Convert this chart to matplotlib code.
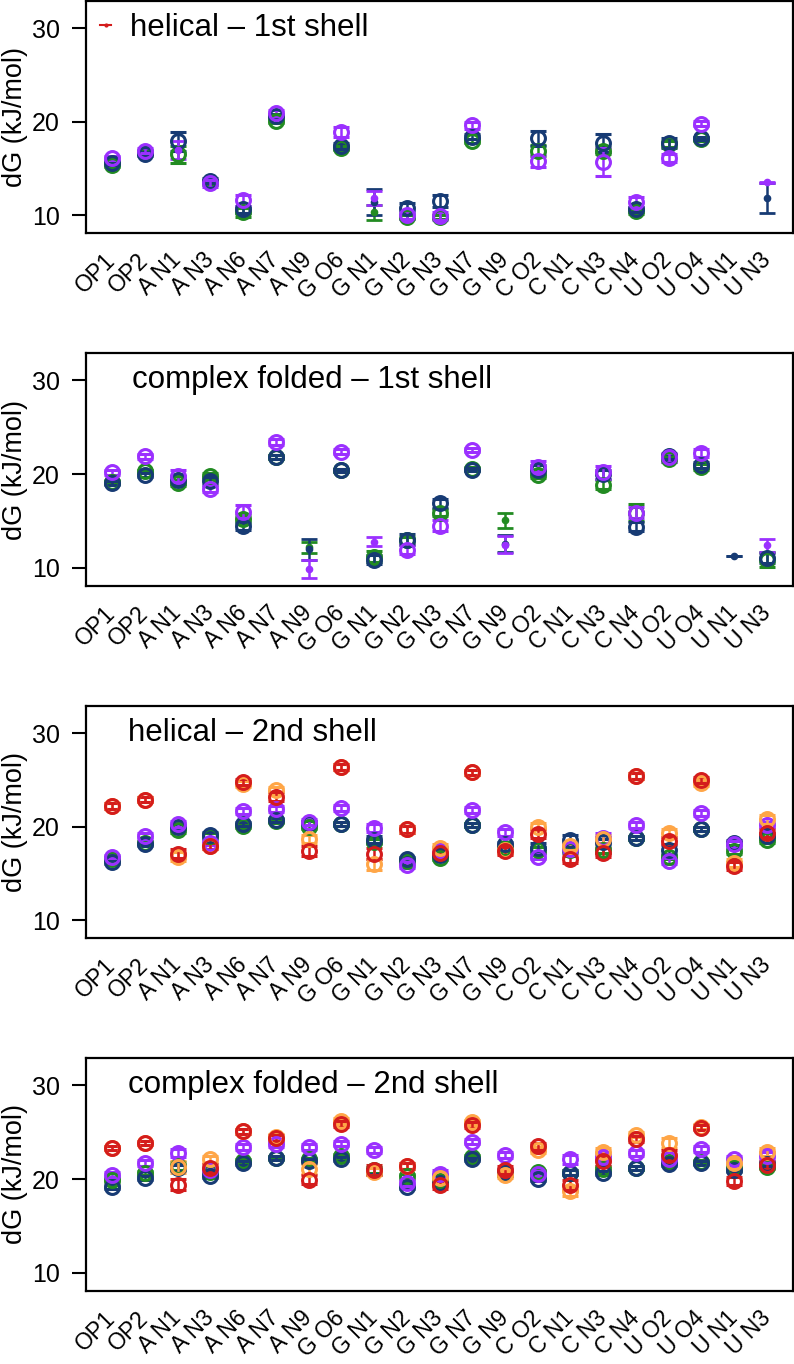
import numpy as np
import matplotlib
matplotlib.use("Agg")
import matplotlib.pyplot as plt
from matplotlib.lines import Line2D

plt.rcParams['font.family'] = ['Liberation Sans', 'DejaVu Sans']

nan = np.nan

categories = ["OP1", "OP2", "A N1", "A N3", "A N6", "A N7", "A N9", "G O6", "G N1",
              "G N2", "G N3", "G N7", "G N9", "C O2", "C N1", "C N3", "C N4", "U O2",
              "U O4", "U N1", "U N3"]

titles = ["helical \u2013 1st shell", "complex folded \u2013 1st shell",
          "helical \u2013 2nd shell", "complex folded \u2013 2nd shell"]

colors = {"navy": "#173b74", "green": "#228b22", "purple": "#9b30ff",
          "orange": "#ffa647", "red": "#d41c1c"}

# ---- helical, 1st shell ----
h1_navy = [15.6, 16.5, 17.9, 13.7, 10.6, 20.6, nan, 17.4, 11.4, 10.8, 11.5, 18.4, nan, 18.2, nan, 17.7, 10.6, 17.7, 18.2, nan, 11.8]
h1_navy_err = [0.2, 0.2, 1.0, 0.3, 0.4, 0.2, nan, 0.3, 1.35, 0.5, 0.6, 0.3, nan, 0.8, nan, 0.95, 0.3, 0.5, 0.2, nan, 1.6]
h1_green = [15.4, 16.7, 16.5, 13.5, 10.3, 20.1, nan, 17.2, 10.3, 9.8, 9.8, 17.9, nan, 16.9, nan, 16.9, 10.4, 17.6, 18.1, nan, nan]
h1_green_err = [0.2, 0.2, 0.9, 0.3, 0.5, 0.2, nan, 0.2, 0.8, 0.2, 0.2, 0.2, nan, 0.55, nan, 0.4, 0.3, 0.3, 0.2, nan, nan]
h1_purple = [16.1, 16.9, 16.95, 13.4, 11.6, 20.9, nan, 18.9, 11.8, 10.0, 9.9, 19.6, nan, 15.8, nan, 15.7, 11.4, 16.1, 19.8, nan, 13.5]
h1_purple_err = [0.2, 0.3, 0.95, 0.4, 0.6, 0.3, nan, 0.5, 0.75, 0.4, 0.4, 0.4, nan, 0.6, nan, 1.5, 0.5, 0.4, 0.3, nan, 0.05]
h1_dots = {"navy": ["G N1", "U N3"], "green": ["G N1"], "purple": ["A N1", "G N1", "U N3"]}

# ---- complex folded, 1st shell ----
c1_navy = [19.1, 19.9, 19.4, 19.3, 14.5, 21.8, 12.0, 20.4, 10.9, 13.0, 16.9, 20.5, 12.6, 20.5, nan, 20.0, 14.4, 21.9, 21.0, 11.25, 11.05]
c1_navy_err = [0.2, 0.2, 0.4, 0.4, 0.4, 0.2, 1.1, 0.2, 0.5, 0.6, 0.5, 0.2, 0.9, 0.5, nan, 0.5, 0.5, 0.3, 0.3, 0.0, 0.5]
c1_green = [19.2, 20.3, 19.05, 19.8, 15.2, 21.8, 12.2, 20.4, 11.2, 12.95, 15.9, 20.6, 15.1, 19.95, nan, 18.9, 15.9, 21.6, 20.8, nan, 10.9]
c1_green_err = [0.2, 0.2, 0.3, 0.3, 0.4, 0.2, 0.6, 0.2, 0.6, 0.4, 0.4, 0.2, 0.8, 0.4, nan, 0.5, 0.9, 0.3, 0.3, nan, 0.8]
c1_purple = [20.2, 21.9, 19.8, 18.4, 16.0, 23.4, 9.9, 22.4, 12.8, 11.95, 14.5, 22.6, 12.5, 20.8, nan, 20.2, 15.9, 21.8, 22.25, nan, 12.4]
c1_purple_err = [0.3, 0.3, 0.6, 0.3, 0.7, 0.3, 1.0, 0.3, 0.5, 0.5, 0.6, 0.2, 0.9, 0.6, nan, 0.7, 0.6, 0.5, 0.4, nan, 0.7]
c1_dots = {"navy": ["A N9", "G N9", "U N1"], "green": ["A N9", "G N9"],
           "purple": ["A N9", "G N1", "G N9", "U N3"]}

# ---- helical, 2nd shell ----
h2_navy = [16.2, 18.1, 20.0, 19.1, 20.3, 20.7, 20.4, 20.3, 18.6, 16.5, 17.0, 20.2, 18.1, 17.7, 18.6, 18.4, 18.8, 17.5, 19.75, 18.3, 19.0]
h2_navy_err = [0.2, 0.2, 0.2, 0.3, 0.2, 0.2, 0.2, 0.2, 0.4, 0.3, 0.3, 0.2, 0.3, 0.5, 0.5, 0.3, 0.2, 0.5, 0.2, 0.3, 0.3]
h2_green = [16.5, 18.3, 19.6, 19.0, 20.1, 20.6, 20.0, 20.3, 18.4, 16.3, 16.6, 20.2, 17.7, 17.5, 17.5, 17.5, 18.8, 16.8, 19.75, 17.4, 18.6]
h2_green_err = [0.2, 0.2, 0.3, 0.3, 0.2, 0.2, 0.2, 0.2, 0.3, 0.2, 0.2, 0.2, 0.3, 0.3, 0.3, 0.3, 0.2, 0.3, 0.2, 0.3, 0.3]
h2_purple = [16.8, 19.0, 20.3, 18.3, 21.7, 21.9, 20.5, 22.0, 19.85, 15.9, 17.4, 21.8, 19.4, 16.8, 17.6, 18.8, 20.2, 16.3, 21.45, 18.1, 20.2]
h2_purple_err = [0.2, 0.3, 0.3, 0.3, 0.3, 0.3, 0.3, 0.3, 0.4, 0.3, 0.4, 0.3, 0.4, 0.3, 0.4, 0.5, 0.3, 0.3, 0.3, 0.4, 0.3]
h2_orange = [22.2, 22.9, 16.8, 17.9, 24.6, 23.9, 18.7, 26.4, 15.95, 19.7, 17.7, 25.8, 17.5, 20.0, 17.9, 18.7, 25.4, 19.3, 24.7, 16.1, 20.8]
h2_orange_err = [0.3, 0.3, 0.5, 0.3, 0.3, 0.4, 0.4, 0.3, 0.6, 0.4, 0.4, 0.3, 0.4, 0.4, 0.4, 0.4, 0.3, 0.4, 0.3, 0.4, 0.5]
h2_red = [22.2, 22.9, 17.1, 17.9, 24.8, 23.2, 17.4, 26.4, 17.1, 19.7, 17.2, 25.8, 17.4, 19.25, 16.5, 17.2, 25.4, 18.5, 25.0, 15.8, 19.3]
h2_red_err = [0.3, 0.3, 0.5, 0.3, 0.3, 0.5, 0.5, 0.3, 0.6, 0.4, 0.4, 0.3, 0.4, 0.5, 0.4, 0.5, 0.3, 0.4, 0.3, 0.4, 0.4]

# ---- complex folded, 2nd shell ----
c2_navy = [19.2, 20.1, 21.2, 20.3, 21.7, 22.25, 21.9, 22.15, 20.9, 19.2, 19.6, 22.1, 20.8, 20.0, 20.7, 20.65, 21.2, 21.65, 21.7, 21.0, 21.6]
c2_navy_err = [0.2, 0.2, 0.3, 0.2, 0.2, 0.2, 0.2, 0.2, 0.3, 0.2, 0.3, 0.2, 0.3, 0.2, 0.3, 0.2, 0.2, 0.2, 0.2, 0.2, 0.2]
c2_green = [19.95, 20.7, 21.4, 20.8, 21.9, 22.3, 22.1, 22.5, 21.0, 20.3, 19.8, 22.4, 20.6, 20.8, 20.7, 21.1, 21.2, 21.8, 21.8, 21.2, 21.35]
c2_green_err = [0.2, 0.2, 0.4, 0.3, 0.2, 0.2, 0.2, 0.2, 0.3, 0.3, 0.3, 0.2, 0.3, 0.2, 0.3, 0.3, 0.2, 0.2, 0.2, 0.3, 0.2]
c2_purple = [20.5, 21.7, 22.8, 21.0, 23.4, 23.7, 23.4, 23.8, 23.1, 19.6, 20.6, 24.0, 22.6, 20.6, 22.1, 22.4, 22.8, 22.2, 23.2, 22.1, 22.5]
c2_purple_err = [0.3, 0.3, 0.4, 0.3, 0.3, 0.3, 0.3, 0.3, 0.3, 0.3, 0.4, 0.3, 0.3, 0.3, 0.5, 0.4, 0.3, 0.3, 0.3, 0.4, 0.4]
c2_orange = [23.3, 23.85, 21.3, 22.1, 25.1, 24.55, 21.1, 26.2, 20.8, 21.4, 20.1, 26.05, 20.5, 23.1, 18.7, 22.9, 24.75, 23.85, 25.6, 21.7, 22.9]
c2_orange_err = [0.2, 0.2, 0.6, 0.4, 0.3, 0.3, 0.5, 0.3, 0.4, 0.3, 0.4, 0.3, 0.4, 0.3, 0.5, 0.4, 0.3, 0.5, 0.3, 0.5, 0.4]
c2_red = [23.3, 23.85, 19.4, 21.2, 25.1, 24.4, 19.95, 25.9, 21.0, 21.4, 19.4, 25.8, 21.0, 23.5, 19.4, 21.9, 24.3, 22.6, 25.5, 19.8, 21.5]
c2_red_err = [0.2, 0.2, 0.6, 0.4, 0.3, 0.3, 0.5, 0.3, 0.5, 0.3, 0.4, 0.3, 0.4, 0.4, 0.5, 0.5, 0.3, 0.5, 0.3, 0.4, 0.4]

panels = [
    [("green", h1_green, h1_green_err), ("navy", h1_navy, h1_navy_err), ("purple", h1_purple, h1_purple_err)],
    [("green", c1_green, c1_green_err), ("navy", c1_navy, c1_navy_err), ("purple", c1_purple, c1_purple_err)],
    [("green", h2_green, h2_green_err), ("navy", h2_navy, h2_navy_err), ("purple", h2_purple, h2_purple_err),
     ("orange", h2_orange, h2_orange_err), ("red", h2_red, h2_red_err)],
    [("green", c2_green, c2_green_err), ("navy", c2_navy, c2_navy_err), ("purple", c2_purple, c2_purple_err),
     ("orange", c2_orange, c2_orange_err), ("red", c2_red, c2_red_err)],
]
panel_dots = [h1_dots, c1_dots, {}, {}]

fig = plt.figure(figsize=(7.94, 13.64), dpi=100)
W, H = 794, 1364
boxes = [(1, 233), (353, 586), (706, 938), (1058, 1291)]
x = np.arange(1, len(categories) + 1)

for k, (top, bot) in enumerate(boxes):
    ax = fig.add_axes([86 / W, 1 - bot / H, 707 / W, (bot - top) / H])
    for name, vals, errs in panels[k]:
        vals = np.array(vals, dtype=float)
        errs = np.array(errs, dtype=float)
        dot = np.isin(categories, panel_dots[k].get(name, []))
        c = colors[name]
        ax.errorbar(x[~dot], vals[~dot], yerr=errs[~dot], fmt='o', ms=10, mfc='none',
                    mec=c, mew=2.2, color=c, elinewidth=1.8, capsize=5.5, capthick=2)
        if dot.any():
            ax.errorbar(x[dot], vals[dot], yerr=errs[dot], fmt='o', ms=4.5, mfc=c,
                        mec=c, color=c, elinewidth=1.8, capsize=5.5, capthick=2)
    ax.set_xlim(0.2, 21.8)
    ax.set_ylim(8.08, 32.92)
    ax.set_yticks([10, 20, 30])
    ax.set_xticks(x)
    ax.set_xticklabels(categories, rotation=45, ha='right', va='center',
                       rotation_mode='anchor', fontsize=16.5)
    ax.tick_params(axis='x', length=0, pad=17)
    ax.tick_params(axis='y', length=10, width=1.5, pad=9, labelsize=18)
    for s in ax.spines.values():
        s.set_linewidth(1.6)
    ax.set_ylabel("dG (kJ/mol)", fontsize=19.5, va='center')
    ax.yaxis.set_label_coords(-0.1, 0.5)

    if k == 0:
        h = Line2D([], [], color=colors["red"], marker='o', ms=2, lw=1.5)
        ax.legend([h], [titles[k]], loc='center left', bbox_to_anchor=(0.02, 0.882),
                  frameon=False, fontsize=22.5, handlelength=0.35, handletextpad=0.6,
                  borderpad=0, borderaxespad=0)
    else:
        tx = 0.065 if k == 1 else 0.059
        ax.text(tx, 30, titles[k], fontsize=22.5, va='center', ha='left',
                transform=ax.get_yaxis_transform())

fig.savefig("out.png", dpi=100)
